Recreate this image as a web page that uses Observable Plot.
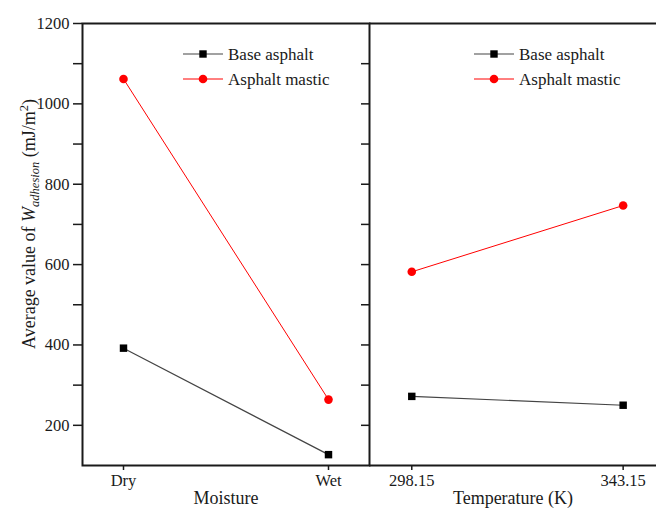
<!DOCTYPE html>
<html>
<head>
<meta charset="utf-8">
<script src="https://cdn.jsdelivr.net/npm/d3@7"></script>
<script src="https://cdn.jsdelivr.net/npm/@observablehq/plot@0.6"></script>
<style>
  html, body { margin: 0; padding: 0; background: #fff; }
  #chart { position: relative; width: 656px; height: 509px; overflow: hidden; }
  #chart svg { position: absolute; top: 0; }
  #chart svg text { font-family: "Liberation Serif", "Times New Roman", serif; }
</style>
</head>
<body>
<div id="chart"></div>
<script>
// Work of adhesion, averaged, for the two binder types
const seriesNames = ["Base asphalt", "Asphalt mastic"];
const moistureStates = ["Dry", "Wet"];
const moistureBase = [392, 127];
const moistureMastic = [1062, 264];
const temperatures = [298.15, 343.15];
const temperatureBase = [272, 250];
const temperatureMastic = [582, 747];
const yMajorTicks = [200, 400, 600, 800, 1000, 1200];
const yMinorTicks = [300, 500, 700, 900, 1100];
const yAllTicks = [200, 300, 400, 500, 600, 700, 800, 900, 1000, 1100];

const moistureRows = seriesNames.flatMap((s, i) =>
  moistureStates.map((c, j) => ({series: s, cond: c, value: (i === 0 ? moistureBase : moistureMastic)[j]})));
const temperatureRows = seriesNames.flatMap((s, i) =>
  temperatures.map((t, j) => ({series: s, temp: t, value: (i === 0 ? temperatureBase : temperatureMastic)[j]})));

const FONT = '"Liberation Serif", "Times New Roman", serif';
const INK = "#1a1a1a";
const BASE_LINE = "#444";
const MASTIC = "#ff0000";
const H = 509, TOP = 23, BOTTOM = 44;
const yScale = {domain: [100, 1200], axis: null};
const plotStyle = {fontFamily: FONT, fontSize: "16.5px", background: "none", overflow: "visible", color: INK};
const tickText = {fontFamily: FONT, fontSize: 16.5};

function seriesMarks(rows, xKey) {
  const base = rows.filter(d => d.series === seriesNames[0]);
  const mastic = rows.filter(d => d.series === seriesNames[1]);
  return [
    Plot.line(base, {x: xKey, y: "value", stroke: BASE_LINE, strokeWidth: 1.2}),
    Plot.line(mastic, {x: xKey, y: "value", stroke: MASTIC, strokeWidth: 1}),
    Plot.dot(base, {x: xKey, y: "value", symbol: "square", r: 4.2, fill: "#000"}),
    Plot.dot(mastic, {x: xKey, y: "value", symbol: "circle", r: 4.3, fill: MASTIC})
  ];
}

// Left panel: moisture condition
const left = Plot.plot({
  width: 370, height: H,
  marginLeft: 82, marginRight: 1, marginTop: TOP, marginBottom: BOTTOM,
  style: plotStyle,
  x: {type: "point", domain: moistureStates, padding: 0.2, axis: null},
  y: yScale,
  marks: [
    Plot.frame({stroke: INK, strokeWidth: 2}),
    Plot.axisY(yMajorTicks, {anchor: "left", tickSize: 9, tickPadding: 4, strokeWidth: 1.5, tickFormat: d => String(d), label: null, ...tickText}),
    Plot.axisY(yMinorTicks, {anchor: "left", tickSize: 9, strokeWidth: 1.5, tickFormat: () => "", label: null}),
    Plot.tickY(yAllTicks, {y: d => d, insetLeft: 279, stroke: INK, strokeWidth: 1.5}),
    Plot.axisX(moistureStates, {anchor: "bottom", tickSize: 5, tickPadding: 4, strokeWidth: 1.5, label: null, ...tickText}),
    Plot.text(["Moisture"], {text: d => d, frameAnchor: "bottom", dy: 38, lineAnchor: "bottom", fontSize: 18, fontFamily: FONT}),
    ...seriesMarks(moistureRows, "cond")
  ]
});
left.style.left = "0px";

// Right panel: temperature
const right = Plot.plot({
  width: 287, height: H,
  marginLeft: 0, marginRight: 0, marginTop: TOP, marginBottom: BOTTOM,
  style: plotStyle,
  x: {type: "linear", domain: [289.15, 350.25], axis: null},
  y: yScale,
  marks: [
    Plot.ruleY([1200, 100], {stroke: INK, strokeWidth: 2}),
    Plot.axisX(temperatures, {anchor: "bottom", tickSize: 5, tickPadding: 4, strokeWidth: 1.5, tickFormat: d3.format(".2f"), label: null, ...tickText}),
    Plot.text(["Temperature (K)"], {text: d => d, frameAnchor: "bottom", dy: 38, lineAnchor: "bottom", fontSize: 18, fontFamily: FONT}),
    ...seriesMarks(temperatureRows, "temp")
  ]
});
right.style.left = "369px";

const chart = document.getElementById("chart");
chart.append(right, left);

// Legend block: sample line with marker, then the series name
function legend(svg, x0) {
  const g = d3.select(svg).append("g")
    .attr("font-family", FONT).attr("font-size", 17).attr("fill", INK).attr("text-anchor", "start");
  const rows = [
    {name: seriesNames[0], y: 54, stroke: BASE_LINE, fill: "#000", square: true},
    {name: seriesNames[1], y: 79, stroke: MASTIC, fill: MASTIC, square: false}
  ];
  for (const r of rows) {
    g.append("line").attr("x1", x0).attr("x2", x0 + 40).attr("y1", r.y).attr("y2", r.y)
      .attr("stroke", r.stroke).attr("stroke-width", r.square ? 1.2 : 1);
    if (r.square) {
      g.append("rect").attr("x", x0 + 16.3).attr("y", r.y - 3.7).attr("width", 7.4).attr("height", 7.4).attr("fill", r.fill);
    } else {
      g.append("circle").attr("cx", x0 + 20).attr("cy", r.y).attr("r", 4.3).attr("fill", r.fill);
    }
    g.append("text").attr("x", x0 + 45).attr("y", r.y).attr("dy", "0.35em").text(r.name);
  }
}
legend(left, 183);
legend(right, 105);

// Y axis title with italic symbol, subscript and superscript
const title = d3.select(left).append("text")
  .attr("transform", "translate(35,224) rotate(-90)")
  .attr("text-anchor", "middle")
  .attr("font-family", FONT).attr("font-size", 18).attr("fill", INK);
title.append("tspan").text("Average value of ");
title.append("tspan").attr("font-style", "italic").text("W");
title.append("tspan").attr("font-style", "italic").attr("font-size", 12.5).attr("dy", 4).text("adhesion");
title.append("tspan").attr("dy", -4).text(" (mJ/m");
title.append("tspan").attr("font-size", 12.5).attr("dy", -7).text("2");
title.append("tspan").attr("dy", 7).text(")");
</script>
</body>
</html>
